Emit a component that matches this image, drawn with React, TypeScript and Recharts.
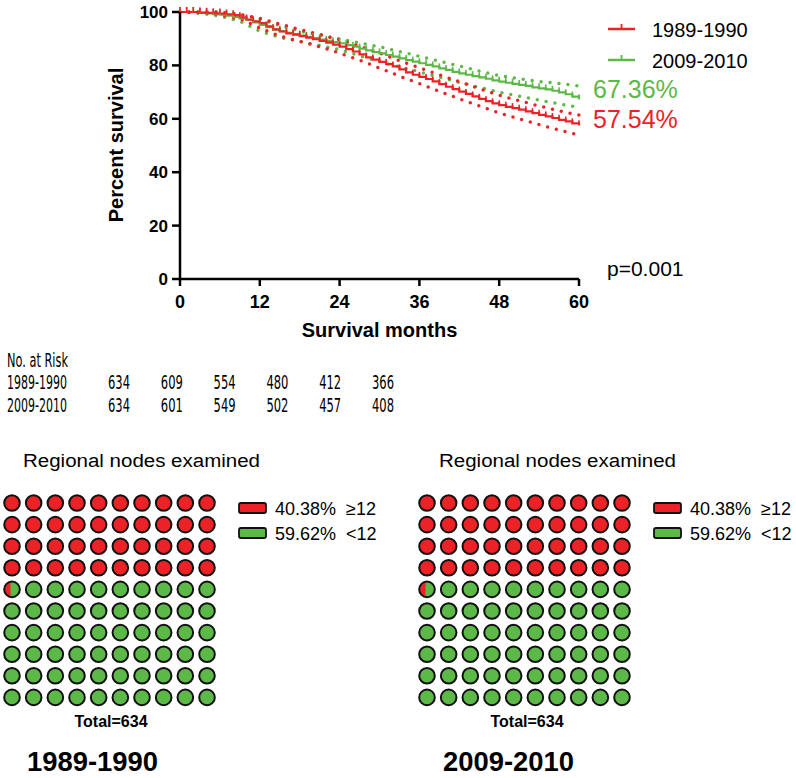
import React from "react"
import { LineChart, Line, XAxis, YAxis, ScatterChart, Scatter } from "recharts"

const RED = "#ec2227"
const GREEN = "#5db947"
const FONT = "'Liberation Sans', Arial, sans-serif"
const NARROW = "'Liberation Sans Narrow', 'DejaVu Sans Condensed', 'Liberation Sans', sans-serif"

// Kaplan-Meier estimates, one value per month (0..60)
const months = Array.from({ length: 61 }, (_, i) => i)
const surv8990 = [
  100, 100, 100, 99.8, 99.7, 99.5, 99.4, 99.1, 98.8, 98.0, 97.2, 96.5, 95.8, 94.6, 93.5, 92.7,
  92.0, 91.5, 91.0, 90.4, 89.8, 89.2, 88.5, 87.8, 87.0, 86.1, 85.2, 84.1, 83.0, 82.2, 81.3,
  80.5, 79.6, 78.5, 77.4, 76.5, 75.7, 74.9, 74.0, 73.0, 72.0, 71.1, 70.2, 69.3, 68.4, 67.5,
  66.6, 65.8, 65.1, 64.5, 64.0, 63.4, 62.8, 62.1, 61.5, 60.9, 60.3, 59.6, 59.0, 58.3, 57.54,
]
const surv0910 = [
  100, 100, 100, 99.7, 99.5, 99.2, 99.0, 98.6, 98.2, 97.6, 97.0, 96.1, 95.2, 94.3, 93.4, 92.8,
  92.2, 91.7, 91.2, 90.7, 90.2, 89.7, 89.2, 88.7, 88.3, 87.6, 87.0, 86.3, 85.6, 85.0, 84.5,
  83.9, 83.3, 82.6, 82.0, 81.4, 80.8, 80.2, 79.6, 78.9, 78.3, 77.6, 77.0, 76.5, 76.0, 75.5,
  75.0, 74.4, 73.9, 73.5, 73.1, 72.7, 72.3, 71.8, 71.4, 71.0, 70.5, 69.9, 69.2, 68.3, 67.36,
]

// 95% confidence bands, every 3 months
const ciMonths = [0, 3, 6, 9, 12, 15, 18, 21, 24, 27, 30, 33, 36, 39, 42, 45, 48, 51, 54, 57, 60]
const upper8990 = [100, 100, 100, 99, 97.6, 95.5, 93.5, 91.6, 89.6, 87.2, 84.6, 81.8, 79.1, 76.5, 73.9, 71.3, 68.8, 66.8, 64.8, 63.0, 61.4]
const lower8990 = [100, 99.8, 99, 97.5, 94, 91, 89, 87, 84.6, 82, 79, 76, 73.2, 70.3, 67.5, 64.8, 62.2, 60, 57.8, 55.8, 53.9]
const upper0910 = [100, 100, 100, 99.3, 97.3, 95, 92.8, 91.3, 89.9, 88.4, 87, 85.2, 83.4, 81.6, 79.8, 77.9, 76.2, 75.0, 74.0, 73.2, 72.3]
const lower0910 = [100, 99.5, 98.5, 96.5, 92.8, 90.5, 89, 87.5, 85.9, 83.6, 81.4, 79.5, 77.6, 75.6, 73.6, 71.8, 70.0, 68.5, 67.0, 65.6, 64.3]

const xTicks = [0, 12, 24, 36, 48, 60]
const yTicks = [0, 20, 40, 60, 80, 100]

const riskGroups = ["1989-1990", "2009-2010"]
const risk8990 = [634, 609, 554, 480, 412, 366]
const risk0910 = [634, 601, 549, 502, 457, 408]

// regional nodes examined: share with >=12 nodes, share with <12
const nodes8990 = [40.38, 59.62]
const nodes0910 = [40.38, 59.62]
const nodeLabels = ["\u226512", "<12"]
const totals = [634, 634]

const survData = months.map((m, i) => ({ month: m, red: surv8990[i], green: surv0910[i] }))
const ciData = ciMonths.map((m, i) => ({
  month: m,
  ru: upper8990[i],
  rl: lower8990[i],
  gu: upper0910[i],
  gl: lower0910[i],
}))

const censorDot = (color: string) => (p: any) => (
  <line key={`c-${color}-${p.index}`} x1={p.cx} x2={p.cx} y1={p.cy} y2={p.cy - 5} stroke={color} strokeWidth={1.6} />
)

function buildCells(pcts: number[]) {
  const full = Math.floor(pcts[0])
  const frac = pcts[0] - full
  return Array.from({ length: 100 }, (_, k) => ({
    col: k % 10,
    row: Math.floor(k / 10),
    kind: k < full ? "red" : k === full ? "part" : "green",
    frac,
  }))
}

const Cell = (p: any) => {
  const { cx, cy, payload } = p
  const r = 7.8
  if (payload.kind === "part") {
    const d = (payload.frac - 0.5) * Math.PI * r / 2
    const h = Math.sqrt(r * r - d * d)
    const large = d > 0 ? 1 : 0
    return (
      <g>
        <circle cx={cx} cy={cy} r={r} fill={GREEN} />
        <path d={`M${cx + d},${cy - h} A${r},${r} 0 ${large} 0 ${cx + d},${cy + h} Z`} fill={RED} />
        <circle cx={cx} cy={cy} r={r} fill="none" stroke="#111" strokeWidth={2} />
      </g>
    )
  }
  return <circle cx={cx} cy={cy} r={r} fill={payload.kind === "red" ? RED : GREEN} stroke="#111" strokeWidth={2} />
}

function Waffle({ left, pcts }: { left: number; pcts: number[] }) {
  const cells = buildCells(pcts)
  return (
    <div style={{ position: "absolute", left: left - 12, top: 490 }}>
      <ScatterChart width={240} height={230} margin={{ top: 13, left: 12, right: 240 - 12 - 195, bottom: 230 - 13 - 194.4 }}>
        <XAxis type="number" dataKey="col" domain={[0, 9]} hide />
        <YAxis type="number" dataKey="row" domain={[0, 9]} reversed hide />
        <Scatter data={cells} shape={Cell} isAnimationActive={false} />
      </ScatterChart>
    </div>
  )
}

function WaffleText({ x, legendX, pcts, total, group }: any) {
  return (
    <g fontFamily={FONT}>
      <text x={x + 11} y={467} fontSize={18} textLength={237} lengthAdjust="spacingAndGlyphs">Regional nodes examined</text>
      {pcts.map((p: number, i: number) => (
        <g key={i}>
          <rect x={legendX} y={503 + i * 25} width={27} height={10} rx={2} fill={i === 0 ? RED : GREEN} stroke="#111" strokeWidth={1.8} />
          <text x={legendX + 36} y={514.5 + i * 25} fontSize={18}>
            {p.toFixed(2)}%{"\u00a0\u00a0"}{nodeLabels[i]}
          </text>
        </g>
      ))}
      <text x={x + 99} y={727} fontSize={16} fontWeight="bold" textAnchor="middle">Total={total}</text>
      <text x={x + 15} y={771} fontSize={27} fontWeight="bold" textLength={131} lengthAdjust="spacingAndGlyphs">{group}</text>
    </g>
  )
}

export default function App() {
  const tickStyle = { fill: "#000", fontSize: 17, fontWeight: "bold", fontFamily: FONT }
  return (
    <div style={{ position: "absolute", left: 0, top: 0, width: 796, height: 778, background: "#fff" }}>
      <div style={{ position: "absolute", left: 0, top: 0 }}>
        <LineChart width={600} height={345} margin={{ top: 12, right: 21, left: 100, bottom: 0 }}>
          <XAxis
            type="number"
            dataKey="month"
            domain={[0, 60]}
            ticks={xTicks}
            height={66}
            tickSize={7}
            tickMargin={9}
            tick={{ ...tickStyle, fontSize: 18 }}
            axisLine={{ stroke: "#000", strokeWidth: 2.5 }}
            tickLine={{ stroke: "#000", strokeWidth: 2.5 }}
            allowDuplicatedCategory={false}
          />
          <YAxis
            type="number"
            domain={[0, 100]}
            ticks={yTicks}
            width={80}
            tickSize={8}
            tickMargin={4}
            tick={tickStyle}
            axisLine={{ stroke: "#000", strokeWidth: 2.5 }}
            tickLine={{ stroke: "#000", strokeWidth: 2.5 }}
          />
          <Line data={ciData} dataKey="gu" type="linear" stroke={GREEN} strokeWidth={3.5} strokeDasharray="0 9" strokeLinecap="round" dot={false} isAnimationActive={false} />
          <Line data={ciData} dataKey="gl" type="linear" stroke={GREEN} strokeWidth={3.5} strokeDasharray="0 9" strokeLinecap="round" dot={false} isAnimationActive={false} />
          <Line data={ciData} dataKey="ru" type="linear" stroke={RED} strokeWidth={3.5} strokeDasharray="0 9" strokeLinecap="round" dot={false} isAnimationActive={false} />
          <Line data={ciData} dataKey="rl" type="linear" stroke={RED} strokeWidth={3.5} strokeDasharray="0 9" strokeLinecap="round" dot={false} isAnimationActive={false} />
          <Line data={survData} dataKey="green" type="stepAfter" stroke={GREEN} strokeWidth={2.2} dot={censorDot(GREEN)} isAnimationActive={false} />
          <Line data={survData} dataKey="red" type="stepAfter" stroke={RED} strokeWidth={2.2} dot={censorDot(RED)} isAnimationActive={false} />
        </LineChart>
      </div>

      <Waffle left={11.7} pcts={nodes8990} />
      <Waffle left={426.7} pcts={nodes0910} />

      <svg width={796} height={778} style={{ position: "absolute", left: 0, top: 0, pointerEvents: "none" }}>
        <g fontFamily={FONT}>
          <text transform="translate(123,145) rotate(-90)" textAnchor="middle" fontSize={20} fontWeight="bold">Percent survival</text>
          <text x={379.5} y={337} textAnchor="middle" fontSize={20} fontWeight="bold">Survival months</text>

          <line x1={608} x2={635} y1={29} y2={29} stroke={RED} strokeWidth={2.5} />
          <line x1={621.5} x2={621.5} y1={29} y2={24} stroke={RED} strokeWidth={1.8} />
          <text x={652} y={37} fontSize={20}>{riskGroups[0]}</text>
          <line x1={608} x2={635} y1={60} y2={60} stroke={GREEN} strokeWidth={2.5} />
          <line x1={621.5} x2={621.5} y1={60} y2={55} stroke={GREEN} strokeWidth={1.8} />
          <text x={652} y={68} fontSize={20}>{riskGroups[1]}</text>

          <text x={593} y={98} fontSize={25} fill={GREEN}>{surv0910[60].toFixed(2)}%</text>
          <text x={593} y={128} fontSize={25} fill={RED}>{surv8990[60].toFixed(2)}%</text>
          <text x={607} y={276} fontSize={21}>p=0.001</text>
        </g>

        <g fontFamily={NARROW} fontSize={19}>
          <text x={7} y={367} textLength={61} lengthAdjust="spacingAndGlyphs">No. at Risk</text>
          {[risk8990, risk0910].map((row, r) => (
            <g key={r}>
              <text x={7} y={389 + r * 23} textLength={60} lengthAdjust="spacingAndGlyphs">{riskGroups[r]}</text>
              {row.map((v, i) => (
                <text key={i} x={108 + i * 52.8} y={389 + r * 23} textLength={22} lengthAdjust="spacingAndGlyphs">{v}</text>
              ))}
            </g>
          ))}
        </g>

        <WaffleText x={12} legendX={239} pcts={nodes8990} total={totals[0]} group={riskGroups[0]} />
        <WaffleText x={428} legendX={654} pcts={nodes0910} total={totals[1]} group={riskGroups[1]} />
      </svg>
    </div>
  )
}
